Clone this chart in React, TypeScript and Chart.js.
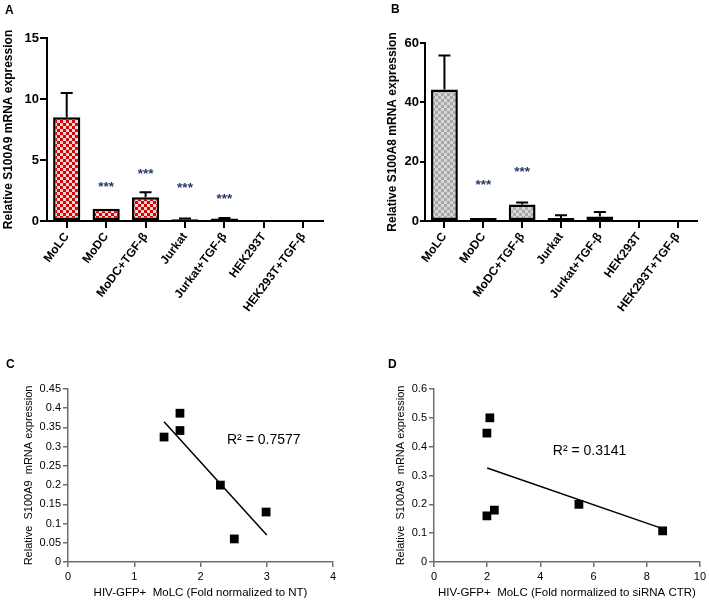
import { useEffect, useRef } from 'react';
import { Chart, registerables } from 'chart.js';

Chart.register(...registerables);

const FONT = "'Liberation Sans', Arial, sans-serif";
Chart.defaults.font.family = FONT;

// ---- Data: panels A & B ----
const cellLines = ['MoLC', 'MoDC', 'MoDC+TGF-β', 'Jurkat', 'Jurkat+TGF-β', 'HEK293T', 'HEK293T+TGF-β'];
const s100a9Means = [8.5, 1.0, 1.95, 0.15, 0.2, 0, 0];
const s100a9ErrTop = [10.5, 1.0, 2.35, 0.2, 0.25, 0, 0];
const s100a9Stars = [null, 3.1, 4.2, 3.0, 2.1, null, null];
const s100a9Ticks = [0, 5, 10, 15];

const s100a8Means = [44.3, 1.0, 5.6, 1.0, 1.5, 0, 0];
const s100a8ErrTop = [55.8, 1.0, 6.2, 1.9, 3.0, 0, 0];
const s100a8Stars = [null, 13.5, 18, null, null, null, null];
const s100a8Ticks = [0, 20, 40, 60];

// ---- Data: panels C & D ----
const ntFold = [1.45, 1.69, 1.69, 2.3, 2.51, 2.99];
const ntS100a9 = [0.325, 0.387, 0.342, 0.2, 0.06, 0.13];
const ntTrendX = [1.45, 3.0];
const ntTrendY = [0.365, 0.07];
const ntXTicks = [0, 1, 2, 3, 4];
const ntYTicks = [0, 0.05, 0.1, 0.15, 0.2, 0.25, 0.3, 0.35, 0.4, 0.45];
const ntR2 = 'R² = 0.7577';
const ntR2Pos = [2.4, 0.317];

const siFold = [1.99, 2.1, 1.99, 2.27, 5.45, 8.6];
const siS100a9 = [0.447, 0.5, 0.16, 0.18, 0.2, 0.108];
const siTrendX = [2.0, 8.65];
const siTrendY = [0.326, 0.114];
const siXTicks = [0, 2, 4, 6, 8, 10];
const siYTicks = [0, 0.1, 0.2, 0.3, 0.4, 0.5, 0.6];
const siR2 = 'R² = 0.3141';
const siR2Pos = [4.47, 0.385];

function makePattern(c1: string, c2: string) {
  const cv = document.createElement('canvas');
  cv.width = 6;
  cv.height = 6;
  const g = cv.getContext('2d')!;
  g.fillStyle = c2;
  g.fillRect(0, 0, 6, 6);
  g.fillStyle = c1;
  g.fillRect(0, 0, 3, 3);
  g.fillRect(3, 3, 3, 3);
  return g.createPattern(cv, 'repeat')!;
}

const fmt = (v: number) => String(Number(v.toFixed(2)));

function barConfig(o: {
  means: number[]; err: number[]; stars: (number | null)[]; ticks: number[]; max: number;
  fill: CanvasPattern; title: string; padLeft: number; yWidth: number; padRight: number;
  padTop: number; xHeight: number; yTick: number;
}) {
  const errPlugin = {
    id: 'errstars',
    afterDatasetsDraw(chart: any) {
      const ctx = chart.ctx;
      const meta = chart.getDatasetMeta(0);
      const ys = chart.scales.y;
      ctx.save();
      ctx.strokeStyle = '#000';
      ctx.lineWidth = 2;
      o.err.forEach((e, i) => {
        if (e <= o.means[i]) return;
        const el = meta.data[i];
        const top = ys.getPixelForValue(e);
        const y0 = ys.getPixelForValue(o.means[i]);
        ctx.beginPath();
        ctx.moveTo(el.x, y0);
        ctx.lineTo(el.x, top);
        ctx.moveTo(el.x - 6, top);
        ctx.lineTo(el.x + 6, top);
        ctx.stroke();
      });
      ctx.fillStyle = '#26386a';
      ctx.font = `bold 13.5px ${FONT}`;
      ctx.textAlign = 'center';
      ctx.textBaseline = 'alphabetic';
      o.stars.forEach((s, i) => {
        if (s == null) return;
        const el = meta.data[i];
        ctx.fillText('***', el.x, ys.getPixelForValue(s) + 8);
      });
      ctx.restore();
    },
  };
  return {
    type: 'bar',
    data: {
      labels: cellLines,
      datasets: [{
        data: o.means,
        backgroundColor: o.fill,
        borderColor: '#000',
        borderWidth: 2.5,
        borderSkipped: false,
        categoryPercentage: 1,
        barPercentage: 0.69,
      }],
    },
    options: {
      animation: false,
      responsive: false,
      events: [],
      layout: { padding: { left: o.padLeft, right: o.padRight, top: o.padTop, bottom: 0 } },
      plugins: { legend: { display: false }, tooltip: { enabled: false } },
      scales: {
        x: {
          type: 'category',
          offset: true,
          afterFit: (s: any) => { s.height = o.xHeight; },
          grid: { drawOnChartArea: false, drawTicks: true, tickLength: 7, color: '#000', lineWidth: 2, offset: false },
          border: { display: true, color: '#000', width: 2 },
          ticks: { autoSkip: false, minRotation: 53, maxRotation: 53, color: '#000', padding: 2, font: { size: 12, weight: 'bold' } },
        },
        y: {
          min: 0,
          max: o.max,
          afterFit: (s: any) => { s.width = o.yWidth; },
          afterBuildTicks: (s: any) => { s.ticks = o.ticks.map((v) => ({ value: v })); },
          grid: { drawOnChartArea: false, drawTicks: true, tickLength: o.yTick, color: '#000', lineWidth: 2 },
          border: { display: true, color: '#000', width: 2 },
          ticks: { color: '#000', padding: 1, font: { size: 13, weight: 'bold' } },
          title: { display: true, text: o.title, color: '#000', padding: { top: 1, bottom: 0 }, font: { size: 12, weight: 'bold' } },
        },
      },
    },
    plugins: [errPlugin],
  };
}

function scatterConfig(o: {
  xs: number[]; ys: number[]; tx: number[]; ty: number[]; xTicks: number[]; yTicks: number[];
  xTitle: string; r2: string; r2Pos: number[]; padLeft: number; yWidth: number; padRight: number;
  padTop: number; xHeight: number;
}) {
  const r2Plugin = {
    id: 'r2',
    afterDatasetsDraw(chart: any) {
      const ctx = chart.ctx;
      ctx.save();
      ctx.fillStyle = '#000';
      ctx.font = `14px ${FONT}`;
      ctx.textAlign = 'left';
      ctx.textBaseline = 'middle';
      ctx.fillText(o.r2, chart.scales.x.getPixelForValue(o.r2Pos[0]), chart.scales.y.getPixelForValue(o.r2Pos[1]));
      ctx.restore();
    },
  };
  const axisColor = '#6e6e6e';
  return {
    type: 'scatter',
    data: {
      datasets: [
        {
          type: 'line',
          data: o.tx.map((x, i) => ({ x, y: o.ty[i] })),
          borderColor: '#000',
          borderWidth: 1.5,
          pointRadius: 0,
          fill: false,
        },
        {
          data: o.xs.map((x, i) => ({ x, y: o.ys[i] })),
          pointStyle: 'rect',
          pointRadius: 6.2,
          backgroundColor: '#000',
          borderColor: '#000',
          borderWidth: 0,
        },
      ],
    },
    options: {
      animation: false,
      responsive: false,
      events: [],
      layout: { padding: { left: o.padLeft, right: o.padRight, top: o.padTop, bottom: 0 } },
      plugins: { legend: { display: false }, tooltip: { enabled: false } },
      scales: {
        x: {
          type: 'linear',
          min: o.xTicks[0],
          max: o.xTicks[o.xTicks.length - 1],
          afterFit: (s: any) => { s.height = o.xHeight; },
          afterBuildTicks: (s: any) => { s.ticks = o.xTicks.map((v) => ({ value: v })); },
          grid: { drawOnChartArea: false, drawTicks: true, tickLength: 5, color: axisColor, lineWidth: 1.5 },
          border: { display: true, color: axisColor, width: 1.5 },
          ticks: { color: '#000', padding: 3, font: { size: 11 }, callback: (v: any) => fmt(Number(v)) },
          title: { display: true, text: o.xTitle, color: '#000', padding: { top: 0, bottom: 2 }, font: { size: 11.5 } },
        },
        y: {
          type: 'linear',
          min: o.yTicks[0],
          max: o.yTicks[o.yTicks.length - 1],
          afterFit: (s: any) => { s.width = o.yWidth; },
          afterBuildTicks: (s: any) => { s.ticks = o.yTicks.map((v) => ({ value: v })); },
          grid: { drawOnChartArea: false, drawTicks: true, tickLength: 5, color: axisColor, lineWidth: 1.5 },
          border: { display: true, color: axisColor, width: 1.5 },
          ticks: { color: '#000', padding: 2, font: { size: 11 }, callback: (v: any) => fmt(Number(v)) },
          title: { display: true, text: 'Relative  S100A9  mRNA expression', color: '#000', padding: { top: 2, bottom: 0 }, font: { size: 11 } },
        },
      },
    },
    plugins: [r2Plugin],
  };
}

function ChartCanvas({ make, left, top, width, height }: { make: () => any; left: number; top: number; width: number; height: number }) {
  const ref = useRef<HTMLCanvasElement>(null);
  useEffect(() => {
    const chart = new Chart(ref.current!, make());
    return () => chart.destroy();
  }, []);
  return <canvas ref={ref} width={width} height={height} style={{ position: 'absolute', left, top, width, height }} />;
}

const letterStyle = (left: number, top: number): any => ({
  position: 'absolute', left, top, font: `bold 12px ${FONT}`, lineHeight: '12px', color: '#000',
});

export default function App() {
  return (
    <div style={{ position: 'fixed', left: 0, top: 0, width: 709, height: 602, background: '#fff', overflow: 'hidden' }}>
      <ChartCanvas
        left={0} top={0} width={354} height={325}
        make={() => barConfig({
          means: s100a9Means, err: s100a9ErrTop, stars: s100a9Stars, ticks: s100a9Ticks, max: 15,
          fill: makePattern('#d80000', '#dcdcdc'), title: 'Relative S100A9 mRNA expression',
          padLeft: 0, yWidth: 47, padRight: 31, padTop: 38, xHeight: 104, yTick: 7,
        })}
      />
      <ChartCanvas
        left={354} top={0} width={355} height={325}
        make={() => barConfig({
          means: s100a8Means, err: s100a8ErrTop, stars: s100a8Stars, ticks: s100a8Ticks, max: 60,
          fill: makePattern('#a8a8a8', '#d6d6d6'), title: 'Relative S100A8 mRNA expression',
          padLeft: 30, yWidth: 41, padRight: 12, padTop: 43, xHeight: 104, yTick: 5,
        })}
      />
      <ChartCanvas
        left={0} top={325} width={354} height={277}
        make={() => scatterConfig({
          xs: ntFold, ys: ntS100a9, tx: ntTrendX, ty: ntTrendY, xTicks: ntXTicks, yTicks: ntYTicks,
          xTitle: 'HIV-GFP+  MoLC (Fold normalized to NT)', r2: ntR2, r2Pos: ntR2Pos,
          padLeft: 20, yWidth: 48, padRight: 21, padTop: 64, xHeight: 40,
        })}
      />
      <ChartCanvas
        left={354} top={325} width={355} height={277}
        make={() => scatterConfig({
          xs: siFold, ys: siS100a9, tx: siTrendX, ty: siTrendY, xTicks: siXTicks, yTicks: siYTicks,
          xTitle: 'HIV-GFP+  MoLC (Fold normalized to siRNA CTR)', r2: siR2, r2Pos: siR2Pos,
          padLeft: 38, yWidth: 42, padRight: 9, padTop: 64, xHeight: 40,
        })}
      />
      <div style={letterStyle(5, 4)}>A</div>
      <div style={letterStyle(391, 3)}>B</div>
      <div style={letterStyle(6, 358)}>C</div>
      <div style={letterStyle(388, 358)}>D</div>
    </div>
  );
}
